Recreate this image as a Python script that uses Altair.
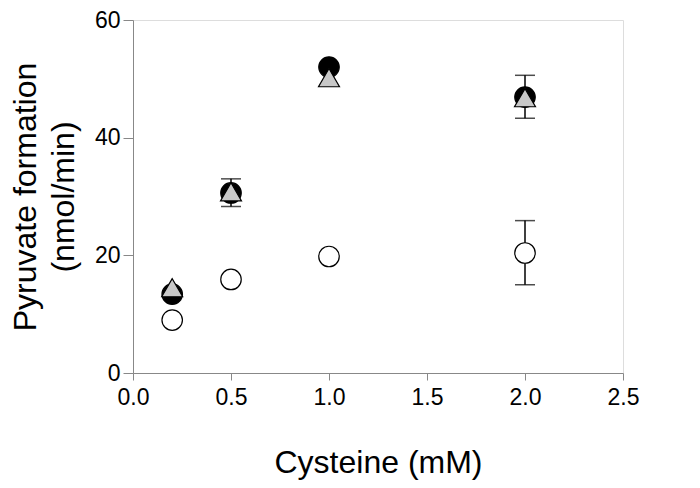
import altair as alt
import pandas as pd

# Data
cys = [0.2, 0.5, 1.0, 2.0]
filled_circle = [13.4, 30.6, 52.0, 46.9]
triangle = [14.5, 30.8, 50.2, 46.8]
open_circle = [9.0, 15.9, 19.8, 20.4]

# error bars (x, low, high)
err_filled_x = [0.5, 2.0]
err_filled_lo = [28.3, 43.3]
err_filled_hi = [33.0, 50.6]
err_open_x = [2.0]
err_open_lo = [15.0]
err_open_hi = [25.9]

x_ticks = [0, 0.5, 1.0, 1.5, 2.0, 2.5]
y_ticks = [0, 20, 40, 60]

FONT = "Liberation Sans"

df_fc = pd.DataFrame({"x": cys, "y": filled_circle})
df_tr = pd.DataFrame({"x": cys, "y": triangle})
df_oc = pd.DataFrame({"x": cys, "y": open_circle})
df_err = pd.DataFrame({
    "x": err_filled_x + err_open_x,
    "lo": err_filled_lo + err_open_lo,
    "hi": err_filled_hi + err_open_hi,
})

xscale = alt.Scale(domain=[0, 2.5], nice=False, zero=False)
yscale = alt.Scale(domain=[0, 60], nice=False)

xaxis = alt.Axis(
    values=x_ticks, format=".1f", title="Cysteine (mM)", grid=False,
    tickSize=7, labelFontSize=23, titleFontSize=32, labelPadding=6,
    titlePadding=38, labelFlush=False, titleFontWeight="normal",
    labelFont=FONT, titleFont=FONT, labelColor="black", titleColor="black",
)
yaxis = alt.Axis(
    values=y_ticks, title=["Pyruvate formation", "(nmol/min)"], grid=False,
    tickSize=10, labelFontSize=23, titleFontSize=32, labelPadding=3,
    titlePadding=14, titleLineHeight=38, titleFontWeight="normal",
    labelFont=FONT, titleFont=FONT, labelColor="black", titleColor="black",
)

X = alt.X("x:Q", scale=xscale, axis=xaxis)
Y = alt.Y("y:Q", scale=yscale, axis=yaxis)

rules = alt.Chart(df_err).mark_rule(color="black", strokeWidth=1.5).encode(
    x=X,
    y=alt.Y("lo:Q", scale=yscale, axis=yaxis),
    y2="hi:Q",
)
cap_lo = alt.Chart(df_err).mark_tick(color="black", orient="horizontal", size=20, thickness=1.5).encode(
    x=X,
    y=alt.Y("lo:Q", scale=yscale, axis=yaxis),
)
cap_hi = alt.Chart(df_err).mark_tick(color="black", orient="horizontal", size=20, thickness=1.5).encode(
    x=X,
    y=alt.Y("hi:Q", scale=yscale, axis=yaxis),
)

fc = alt.Chart(df_fc).mark_point(
    shape="circle", filled=True, fill="black", stroke="black", strokeWidth=1.2,
    size=420, opacity=1,
).encode(x=X, y=Y)
tr = alt.Chart(df_tr).mark_point(
    shape="triangle-up", filled=True, fill="#c8c8c8", stroke="black", strokeWidth=1.2,
    size=440, opacity=1,
).encode(x=X, y=Y)
oc = alt.Chart(df_oc).mark_point(
    shape="circle", filled=True, fill="white", stroke="black", strokeWidth=1.2,
    size=420, opacity=1,
).encode(x=X, y=Y)

chart = alt.layer(rules, cap_lo, cap_hi, fc, tr, oc).properties(
    width=490, height=353,
    autosize=alt.AutoSizeParams(type="none"),
    padding={"left": 125, "top": 12, "right": 60, "bottom": 110},
).configure_view(
    stroke="#444444", strokeWidth=1.5,
).configure_axis(
    domainColor="#444444", tickColor="#444444",
    domainWidth=1.5, tickWidth=1.5,
).configure(background="white")

chart.save("out.html", embed_options={"renderer": "svg", "actions": False})
